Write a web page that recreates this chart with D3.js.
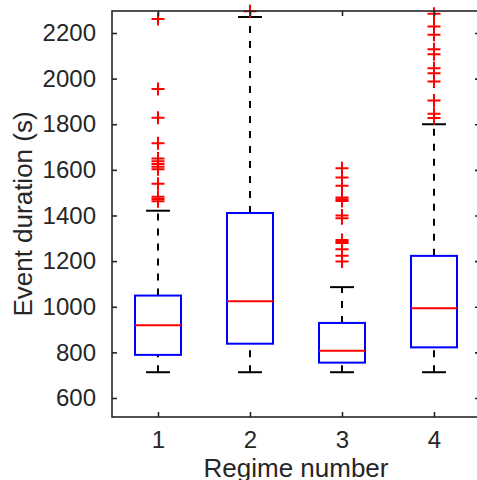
<!DOCTYPE html>
<html>
<head>
<meta charset="utf-8">
<script src="https://cdn.jsdelivr.net/npm/d3@7"></script>
<style>
  html, body { margin: 0; padding: 0; background: #fff; }
  svg { display: block; }
  text { font-family: "Liberation Sans", Arial, Helvetica, sans-serif; fill: #262626; }
</style>
</head>
<body>
<svg id="chart" width="477" height="480"></svg>
<script>
// ---- data ----
const categories = [1, 2, 3, 4];
const q1 = [789, 838, 755, 822];
const medians = [919, 1024, 807, 993];
const q3 = [1049, 1411, 929, 1223];
const whiskerLow = [713, 713, 713, 713];
const whiskerHigh = [1421, 2270, 1086, 1800];
const outliers1 = [2261, 1954, 1829, 1717, 1650, 1638, 1626, 1614, 1603, 1539, 1482, 1472, 1462];
const outliers2 = [2295];
const outliers3 = [1607, 1566, 1530, 1479, 1471, 1464, 1400, 1388, 1293, 1285, 1279, 1252, 1224, 1198];
const outliers4 = [2284, 2228, 2192, 2129, 2107, 2045, 2023, 1987, 1904, 1846, 1827];
const yTicks = [600, 800, 1000, 1200, 1400, 1600, 1800, 2000, 2200];
const xLabel = "Regime number";
const yLabel = "Event duration (s)";

const outliers = [outliers1, outliers2, outliers3, outliers4];

// ---- layout ----
const mLeft = 112, mRight = 480, mTop = 11, mBottom = 417;
const svg = d3.select("#chart");

const x = d3.scaleLinear().domain([0.5, 4.5]).range([mLeft, mRight]);
const y = d3.scaleLinear().domain([516.7, 2296.4]).range([mBottom, mTop]);

const axisColor = "#262626";
const boxHalf = (x(1.25) - x(1));
const capHalf = (x(1.13) - x(1));

const g = svg.append("g");

categories.forEach((c, i) => {
  // whiskers (dashed)
  g.append("line")
    .attr("x1", x(c)).attr("x2", x(c))
    .attr("y1", y(q3[i])).attr("y2", y(whiskerHigh[i]))
    .attr("stroke", "#000").attr("stroke-width", 2).attr("stroke-dasharray", "7,8");
  g.append("line")
    .attr("x1", x(c)).attr("x2", x(c))
    .attr("y1", y(whiskerLow[i])).attr("y2", y(q1[i]))
    .attr("stroke", "#000").attr("stroke-width", 2).attr("stroke-dasharray", "7,8");
  // caps
  [whiskerHigh[i], whiskerLow[i]].forEach(v => {
    g.append("line")
      .attr("x1", x(c) - capHalf).attr("x2", x(c) + capHalf)
      .attr("y1", y(v)).attr("y2", y(v))
      .attr("stroke", "#000").attr("stroke-width", 2);
  });
  // box
  g.append("rect")
    .attr("x", x(c) - boxHalf).attr("width", 2 * boxHalf)
    .attr("y", y(q3[i])).attr("height", y(q1[i]) - y(q3[i]))
    .attr("fill", "none").attr("stroke", "#0000ff").attr("stroke-width", 2);
  // median
  g.append("line")
    .attr("x1", x(c) - boxHalf).attr("x2", x(c) + boxHalf)
    .attr("y1", y(medians[i])).attr("y2", y(medians[i]))
    .attr("stroke", "#ff0000").attr("stroke-width", 2);
  // outliers
  const m = 6.5;
  outliers[i].forEach(v => {
    const cy = y(v), cx = x(c);
    g.append("path")
      .attr("d", `M${cx - m},${cy}H${cx + m}M${cx},${cy - m}V${cy + m}`)
      .attr("stroke", "#ff0000").attr("stroke-width", 2).attr("fill", "none");
  });
});

// ---- axes ----
const tickLen = 5;
const yAxisL = svg.append("g").attr("transform", `translate(${mLeft},0)`)
  .call(d3.axisLeft(y).tickValues(yTicks).tickSize(-tickLen).tickPadding(11 + tickLen).tickFormat(d3.format("d")));
const yAxisR = svg.append("g").attr("transform", `translate(${mRight},0)`)
  .call(d3.axisRight(y).tickValues(yTicks).tickSize(-tickLen).tickFormat(""));
const xAxisB = svg.append("g").attr("transform", `translate(0,${mBottom})`)
  .call(d3.axisBottom(x).tickValues(categories).tickSize(-tickLen).tickPadding(9 + tickLen).tickFormat(d3.format("d")));
const xAxisT = svg.append("g").attr("transform", `translate(0,${mTop})`)
  .call(d3.axisTop(x).tickValues(categories).tickSize(-tickLen).tickFormat(""));

[yAxisL, yAxisR, xAxisB, xAxisT].forEach(a => {
  a.select(".domain").remove();
  a.selectAll(".tick line").attr("stroke", axisColor).attr("stroke-width", 1.6);
  a.selectAll(".tick text").attr("fill", axisColor)
    .style("font-family", '"Liberation Sans", Arial, Helvetica, sans-serif')
    .style("font-size", "24px");
});
svg.append("rect")
  .attr("x", mLeft).attr("y", mTop).attr("width", mRight - mLeft).attr("height", mBottom - mTop)
  .attr("fill", "none").attr("stroke", axisColor).attr("stroke-width", 1.6);

// labels
svg.append("text")
  .attr("x", 296).attr("y", 477)
  .attr("text-anchor", "middle").style("font-size", "26px")
  .text(xLabel);
svg.append("text")
  .attr("transform", `translate(32,214) rotate(-90)`)
  .attr("text-anchor", "middle").style("font-size", "26px")
  .text(yLabel);
</script>
</body>
</html>
